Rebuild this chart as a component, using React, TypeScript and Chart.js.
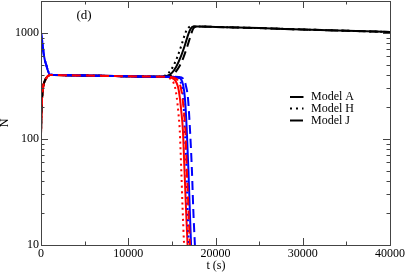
import React, { useEffect, useRef } from "react";
import { Chart, registerables } from "chart.js";
Chart.register(...registerables);

const FONT = "Liberation Serif, DejaVu Serif, serif";

const xTickValues = [0, 10000, 20000, 30000, 40000];
const yTickValues = [10, 100, 1000];
const modelLabels = ["Model A", "Model H", "Model J"];
const panelLabel = "(d)";
const xTitle = "t (s)";
const yTitle = "N";

// early phase shared by all models
const tEarly = [0, 50, 100, 200, 300, 450, 600, 800, 1000, 1500, 3000, 6000, 10000, 13000];
const lowEarly = [110, 185, 230, 290, 325, 355, 375, 392, 400, 401, 399, 395, 390, 387];
const highEarly = [1000, 940, 880, 760, 640, 550, 500, 440, 405, 402, 399, 395, 390, 387];

// red decline
const redA_t = [14500, 15000, 15400, 15700, 15900, 16100, 16260, 16450, 16620, 16800, 16900];
const redA_n = [384, 376, 355, 310, 250, 175, 122, 50, 22, 10, 7];
const redH_t = [14200, 14650, 15050, 15350, 15550, 15750, 15900, 16080, 16230, 16400, 16500];
const redH_n = [384, 376, 355, 310, 250, 175, 122, 50, 22, 10, 7];
const redJ_t = [14800, 15300, 15700, 16000, 16200, 16400, 16540, 16720, 16900, 17070, 17150];
const redJ_n = [384, 376, 355, 310, 250, 175, 122, 50, 22, 10, 7];

// blue decline
const blueA_t = [15500, 16000, 16300, 16500, 16700, 16900, 17050, 17200, 17300];
const blueA_n = [385, 370, 320, 240, 125, 50, 22, 10, 7];
const blueH_t = [15300, 15800, 16100, 16300, 16480, 16680, 16800, 16950, 17050];
const blueH_n = [385, 370, 320, 240, 125, 50, 22, 10, 7];
const blueJ_t = [15800, 16300, 16600, 16850, 17070, 17300, 17450, 17640, 17740];
const blueJ_n = [385, 370, 320, 240, 125, 50, 22, 10, 7];

// black rise
const blackA_t = [14000, 14500, 15000, 15500, 16000, 16500, 16900, 17200, 17500, 18000, 20000, 25000, 30000, 35000, 40000];
const blackA_n = [388, 395, 420, 480, 590, 770, 980, 1110, 1150, 1152, 1140, 1110, 1078, 1048, 1020];
const blackH_t = [13700, 14200, 14650, 15150, 15650, 16150, 16550, 16900, 17250, 17800, 20000, 25000, 30000, 35000, 40000];
const blackH_n = [388, 396, 422, 485, 600, 790, 1000, 1120, 1150, 1152, 1140, 1110, 1078, 1048, 1020];
const blackJ_t = [14300, 14800, 15300, 15800, 16300, 16800, 17200, 17450, 17700, 18100, 20000, 25000, 30000, 35000, 40000];
const blackJ_n = [388, 394, 418, 475, 580, 760, 970, 1100, 1145, 1152, 1140, 1110, 1078, 1048, 1020];

const DOT = [2, 3.5];
const DASH = [9, 5];

export default function App() {
  const ref = useRef<HTMLCanvasElement>(null);
  useEffect(() => {
    const canvas = ref.current!;
    const mk = (t0: number[], n0: number[], t1: number[], n1: number[]) =>
      t0.map((x, i) => ({ x, y: n0[i] })).concat(t1.map((x, i) => ({ x, y: n1[i] })));
    const ds = (data: any, color: string, dash: number[], offset = 0) => ({
      data,
      borderColor: color,
      backgroundColor: color,
      borderWidth: 2,
      borderDash: dash,
      borderDashOffset: offset,
      pointRadius: 0,
      fill: false,
      cubicInterpolationMode: "monotone" as const,
    });
    // first dataset drawn on top
    const datasets = [
      ds(mk(tEarly, lowEarly, redJ_t, redJ_n), "#ff0000", DASH),
      ds(mk(tEarly, highEarly, blueJ_t, blueJ_n), "#0000ff", DASH),
      ds(mk(tEarly, highEarly, blueH_t, blueH_n), "#0000ff", DOT),
      ds(mk(tEarly, highEarly, blueA_t, blueA_n), "#0000ff", []),
      ds(mk(tEarly, lowEarly, blackJ_t, blackJ_n), "#000000", DASH, 7),
      ds(mk(tEarly, lowEarly, redH_t, redH_n), "#ff0000", DOT),
      ds(mk(tEarly, lowEarly, redA_t, redA_n), "#ff0000", []),
      ds(mk(tEarly, lowEarly, blackH_t, blackH_n), "#000000", DOT),
      ds(mk(tEarly, lowEarly, blackA_t, blackA_n), "#000000", []),
    ];

    const decor = {
      id: "decor",
      afterDatasetsDraw(chart: any) {
        const { ctx, chartArea: a, scales } = chart;
        const xs = scales.x, ys = scales.y;
        ctx.save();
        ctx.strokeStyle = "#444";
        ctx.lineWidth = 1;
        ctx.setLineDash([]);
        ctx.strokeRect(a.left + 0.5, a.top + 0.5, a.right - a.left, a.bottom - a.top);
        ctx.beginPath();
        for (let v = 0; v <= 40000; v += 5000) {
          const px = Math.round(xs.getPixelForValue(v)) + 0.5;
          const len = v % 10000 === 0 ? 7 : 3.5;
          ctx.moveTo(px, a.bottom);
          ctx.lineTo(px, a.bottom - len);
          ctx.moveTo(px, a.top);
          ctx.lineTo(px, a.top + len);
        }
        for (const d of [10, 100, 1000]) {
          for (let m = 1; m <= 9; m++) {
            const v = m * d;
            if (v > 2000) break;
            const py = Math.round(ys.getPixelForValue(v)) + 0.5;
            const len = m === 1 ? 7 : 3.5;
            ctx.moveTo(a.left, py);
            ctx.lineTo(a.left + len, py);
            ctx.moveTo(a.right, py);
            ctx.lineTo(a.right - len, py);
          }
        }
        ctx.stroke();

        ctx.fillStyle = "#000";
        ctx.textAlign = "center";
        ctx.textBaseline = "middle";
        ctx.font = `13px ${FONT}`;
        ctx.fillText(panelLabel, 84, 16);
        ctx.font = `12px ${FONT}`;
        ctx.fillText(xTitle, 216, 265.5);
        ctx.save();
        ctx.translate(5, 123);
        ctx.rotate(-Math.PI / 2);
        ctx.fillText(yTitle, 0, 0);
        ctx.restore();

        // legend
        const ly = [97, 108.5, 120.5];
        const dashes = [[], [2, 4], [13, 5]];
        ctx.strokeStyle = "#000";
        ctx.lineWidth = 2;
        modelLabels.forEach((lab, i) => {
          ctx.setLineDash(dashes[i]);
          ctx.beginPath();
          ctx.moveTo(290, ly[i]);
          ctx.lineTo(303.5, ly[i]);
          ctx.stroke();
          ctx.setLineDash([]);
          ctx.textAlign = "left";
          ctx.font = `12px ${FONT}`;
          ctx.fillText(lab, 311, ly[i]);
        });
        ctx.restore();
      },
    };

    const chart = new Chart(canvas, {
      type: "line",
      data: { datasets },
      options: {
        animation: false,
        responsive: false,
        devicePixelRatio: 1,
        layout: { padding: { top: 1, right: 17, left: 0, bottom: 0 } },
        plugins: { legend: { display: false }, tooltip: { enabled: false } },
        scales: {
          x: {
            type: "linear",
            min: 0,
            max: 40000,
            afterBuildTicks: (s: any) => {
              s.ticks = xTickValues.map((v) => ({ value: v }));
            },
            afterFit: (s: any) => {
              s.height = 28;
              s.paddingLeft = 0;
              s.paddingRight = 0;
            },
            ticks: {
              font: { family: FONT, size: 12 },
              color: "#000",
              padding: 2,
              maxRotation: 0,
              autoSkip: false,
              callback: (v: any) => String(v),
            },
            grid: { display: false, drawTicks: false },
            border: { display: false },
          },
          y: {
            type: "logarithmic",
            min: 10,
            max: 2000,
            afterBuildTicks: (s: any) => {
              s.ticks = yTickValues.map((v) => ({ value: v }));
            },
            afterFit: (s: any) => {
              s.width = 41;
              s.paddingTop = 0;
              s.paddingBottom = 0;
            },
            ticks: {
              font: { family: FONT, size: 12 },
              color: "#000",
              padding: 2,
              autoSkip: false,
              callback: (v: any) => String(v),
            },
            grid: { display: false, drawTicks: false },
            border: { display: false },
          },
        },
      },
      plugins: [decor],
    } as any);
    return () => chart.destroy();
  }, []);
  return (
    <div style={{ position: "absolute", left: 0, top: 0, width: 407, height: 273, background: "#fff" }}>
      <canvas ref={ref} width={407} height={273} style={{ display: "block" }} />
    </div>
  );
}
